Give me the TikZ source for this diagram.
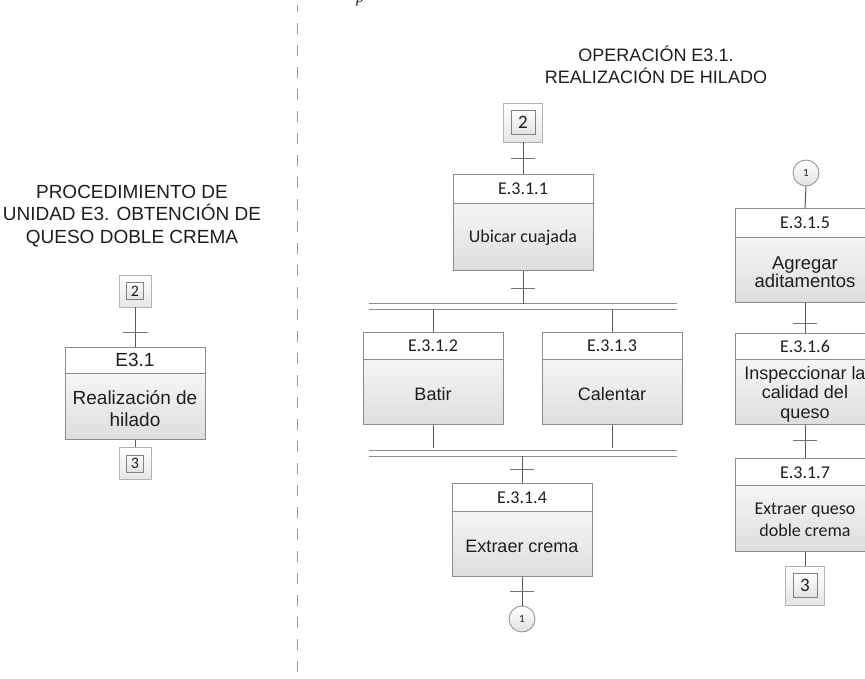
\documentclass[tikz,border=0pt]{standalone}
\usepackage{fontspec}
\setmainfont{Liberation Sans}
\newfontfamily\calib{Carlito}
\newfontfamily\serifit{Liberation Serif}
\usetikzlibrary{calc}

\definecolor{framegray}{HTML}{8C8C8C}
\definecolor{wiregray}{HTML}{5A5A5A}
\definecolor{bargray}{HTML}{8E8E8E}
\definecolor{inkgray}{HTML}{1E1E1E}
\definecolor{sepgray}{HTML}{9A9A9A}

\newcommand\fsz[2]{\fontsize{#1}{#2}\selectfont}

\tikzset{
  stepframe/.style={draw=framegray, line width=0.9pt, top color=white, bottom color=black!13,
    minimum width=140pt, inner sep=0pt, anchor=north},
  hband/.style={path picture={\fill[white] (path picture bounding box.north west)
    rectangle ([yshift=-#1]path picture bounding box.north east);}},
  hdrline/.style={draw=framegray, line width=0.8pt},
  wire/.style={draw=wiregray, line width=1pt},
  tickmark/.style={draw=wiregray!85, line width=0.9pt},
  barline/.style={draw=bargray, line width=1.3pt},
  barnode/.style={minimum width=308pt, minimum height=5pt, inner sep=0pt},
  numouter/.style={draw=black!30, line width=0.8pt, top color=white, bottom color=black!10, inner sep=0pt},
  numinner/.style={draw=black!50, line width=0.8pt, top color=white, bottom color=black!12,
    inner sep=0pt, text=inkgray},
  linkcirc/.style={circle, draw=black!45, line width=0.8pt, top color=white, bottom color=black!12,
    minimum size=26pt, inner sep=0pt, text=inkgray, font=\calib\fsz{11}{11}},
  lbl/.style={text=inkgray, align=center, inner sep=0pt},
}

\begin{document}
\begin{tikzpicture}[x=1pt, y=-1pt]
\useasboundingbox (0,0) rectangle (865,679);
\fill[white] (0,0) rectangle (865,679);
\clip (0,0) rectangle (865,679);

% fragment of the caption line above
\node[lbl, anchor=base, font=\serifit\itshape\fsz{16}{16}] (capfrag) at (360,3) {p};

% dashed separator between the two levels
\coordinate (sepTop) at (297,5);
\coordinate (sepBot) at (297,679);
\draw[sepgray, line width=0.8pt, dash pattern=on 11pt off 11pt, dash phase=4pt] (sepTop) -- (sepBot);

% ---------------- procedure level ----------------
\node[lbl, font=\fsz{19}{22.5}] (ttlL) at (132,216)
  {PROCEDIMIENTO DE\\UNIDAD E3. OBTENCIÓN DE\\QUESO DOBLE CREMA};

\node[numouter, minimum size=32pt] (n2L) at (135,291) {};
\node[numinner, minimum size=17pt, font=\calib\fsz{16}{16}] (n2Li) at (n2L) {2};

\node[stepframe, minimum height=92pt, hband=26pt] (e31) at (135,347) {};
\draw[hdrline] ([yshift=-26pt]e31.north west) -- ([yshift=-26pt]e31.north east);
\node[lbl, font=\fsz{19}{19}] (e31h) at (135,360) {E3.1};
\node[lbl, font=\fsz{19}{22}] (e31b) at (135,409) {Realización de\\hilado};

\node[numouter, minimum size=32pt] (n3L) at (135,463.5) {};
\node[numinner, minimum size=17pt, font=\calib\fsz{16}{16}] (n3Li) at (n3L) {3};

\draw[wire] (n2L.south) -- (e31.north);
\draw[wire] (e31.south) -- (n3L.north);
\coordinate (tL1) at (135,332);
\draw[tickmark] ([xshift=-12.5pt]tL1) -- ([xshift=12.5pt]tL1);

% ---------------- operation level ----------------
\node[lbl, font=\fsz{18}{22}] (ttlR) at (656,65) {OPERACIÓN E3.1.\\REALIZACIÓN DE HILADO};

\node[numouter, minimum size=39pt] (n2R) at (523,122.5) {};
\node[numinner, minimum size=24pt, font=\calib\fsz{19}{19}] (n2Ri) at (n2R) {2};

% E.3.1.1
\node[stepframe, minimum height=96pt, hband=29pt] (s311) at (523,174) {};
\draw[hdrline] ([yshift=-29pt]s311.north west) -- ([yshift=-29pt]s311.north east);
\node[lbl, font=\calib\fsz{18}{18}] (s311h) at (523,189) {E.3.1.1};
\node[lbl, font=\calib\fsz{18}{18}] (s311b) at (523,238) {Ubicar cuajada};

% simultaneous divergence
\node[barnode] (bar1) at (523,306.5) {};
\draw[barline] (bar1.north west) -- (bar1.north east);
\draw[barline] (bar1.south west) -- (bar1.south east);

% E.3.1.2
\node[stepframe, minimum height=92pt, hband=27pt] (s312) at (433,332) {};
\draw[hdrline] ([yshift=-27pt]s312.north west) -- ([yshift=-27pt]s312.north east);
\node[lbl, font=\calib\fsz{18}{18}] (s312h) at (433,346) {E.3.1.2};
\node[lbl, font=\fsz{18}{18}] (s312b) at (433,394) {Batir};

% E.3.1.3
\node[stepframe, minimum height=92pt, hband=27pt] (s313) at (612,332) {};
\draw[hdrline] ([yshift=-27pt]s313.north west) -- ([yshift=-27pt]s313.north east);
\node[lbl, font=\calib\fsz{18}{18}] (s313h) at (612,346) {E.3.1.3};
\node[lbl, font=\fsz{18}{18}] (s313b) at (612,394) {Calentar};

% simultaneous convergence
\node[barnode] (bar2) at (523,453.5) {};
\draw[barline] (bar2.north west) -- (bar2.north east);
\draw[barline] (bar2.south west) -- (bar2.south east);

% E.3.1.4
\node[stepframe, minimum height=93pt, hband=28pt] (s314) at (522,483) {};
\draw[hdrline] ([yshift=-28pt]s314.north west) -- ([yshift=-28pt]s314.north east);
\node[lbl, font=\calib\fsz{18}{18}] (s314h) at (522,498) {E.3.1.4};
\node[lbl, font=\fsz{18}{18}] (s314b) at (522,546) {Extraer crema};

\node[linkcirc] (c1a) at (522,619) {1};

% connectors of the main branch
\draw[wire] (n2R.south) -- (s311.north);
\draw[wire] (s311.south) -- (bar1.north);
\draw[wire] (bar1.south -| s312.north) -- (s312.north);
\draw[wire] (bar1.south -| s313.north) -- (s313.north);
\draw[wire] (s312.south) -- ([yshift=3pt]bar2.north -| s312.south);
\draw[wire] (s313.south) -- ([yshift=3pt]bar2.north -| s313.south);
\draw[wire] (bar2.south -| s314.north) -- (s314.north);
\draw[wire] (s314.south) -- (c1a.north);

\coordinate (tR1) at (523,158);
\coordinate (tR2) at (523,288);
\coordinate (tR3) at (522,469);
\coordinate (tR4) at (522,591);
\foreach \t in {tR1,tR2,tR3,tR4}
  \draw[tickmark] ([xshift=-12pt]\t) -- ([xshift=12pt]\t);

% ---------------- continuation column ----------------
\node[linkcirc] (c1b) at (806,173) {1};

% E.3.1.5
\node[stepframe, minimum height=94pt, hband=29pt] (s315) at (805,208) {};
\draw[hdrline] ([yshift=-29pt]s315.north west) -- ([yshift=-29pt]s315.north east);
\node[lbl, font=\calib\fsz{18}{18}] (s315h) at (805,223) {E.3.1.5};
\node[lbl, font=\fsz{18.5}{18}] (s315b) at (805,272) {Agregar\\aditamentos};

% E.3.1.6
\node[stepframe, minimum height=91pt, hband=26pt] (s316) at (805,333) {};
\draw[hdrline] ([yshift=-26pt]s316.north west) -- ([yshift=-26pt]s316.north east);
\node[lbl, font=\calib\fsz{18}{18}] (s316h) at (805,346) {E.3.1.6};
\node[lbl, font=\fsz{18}{19.5}] (s316b) at (805,394) {Inspeccionar la\\calidad del\\queso};

% E.3.1.7
\node[stepframe, minimum height=93pt, hband=27pt] (s317) at (805,458) {};
\draw[hdrline] ([yshift=-27pt]s317.north west) -- ([yshift=-27pt]s317.north east);
\node[lbl, font=\calib\fsz{18}{18}] (s317h) at (805,473) {E.3.1.7};
\node[lbl, font=\calib\fsz{18}{22}] (s317b) at (805,520) {Extraer queso\\doble crema};

\node[numouter, minimum size=39pt] (n3R) at (805,585.5) {};
\node[numinner, minimum size=24pt, font=\calib\fsz{19}{19}] (n3Ri) at (n3R) {3};

\draw[wire] (c1b.south) -- (s315.north);
\draw[wire] (s315.south) -- (s316.north);
\draw[wire] (s316.south) -- (s317.north);
\draw[wire] (s317.south) -- (n3R.north);

\coordinate (tC1) at (805,323);
\coordinate (tC2) at (805,440);
\foreach \t in {tC1,tC2}
  \draw[tickmark] ([xshift=-12pt]\t) -- ([xshift=12pt]\t);
\end{tikzpicture}
\end{document}
